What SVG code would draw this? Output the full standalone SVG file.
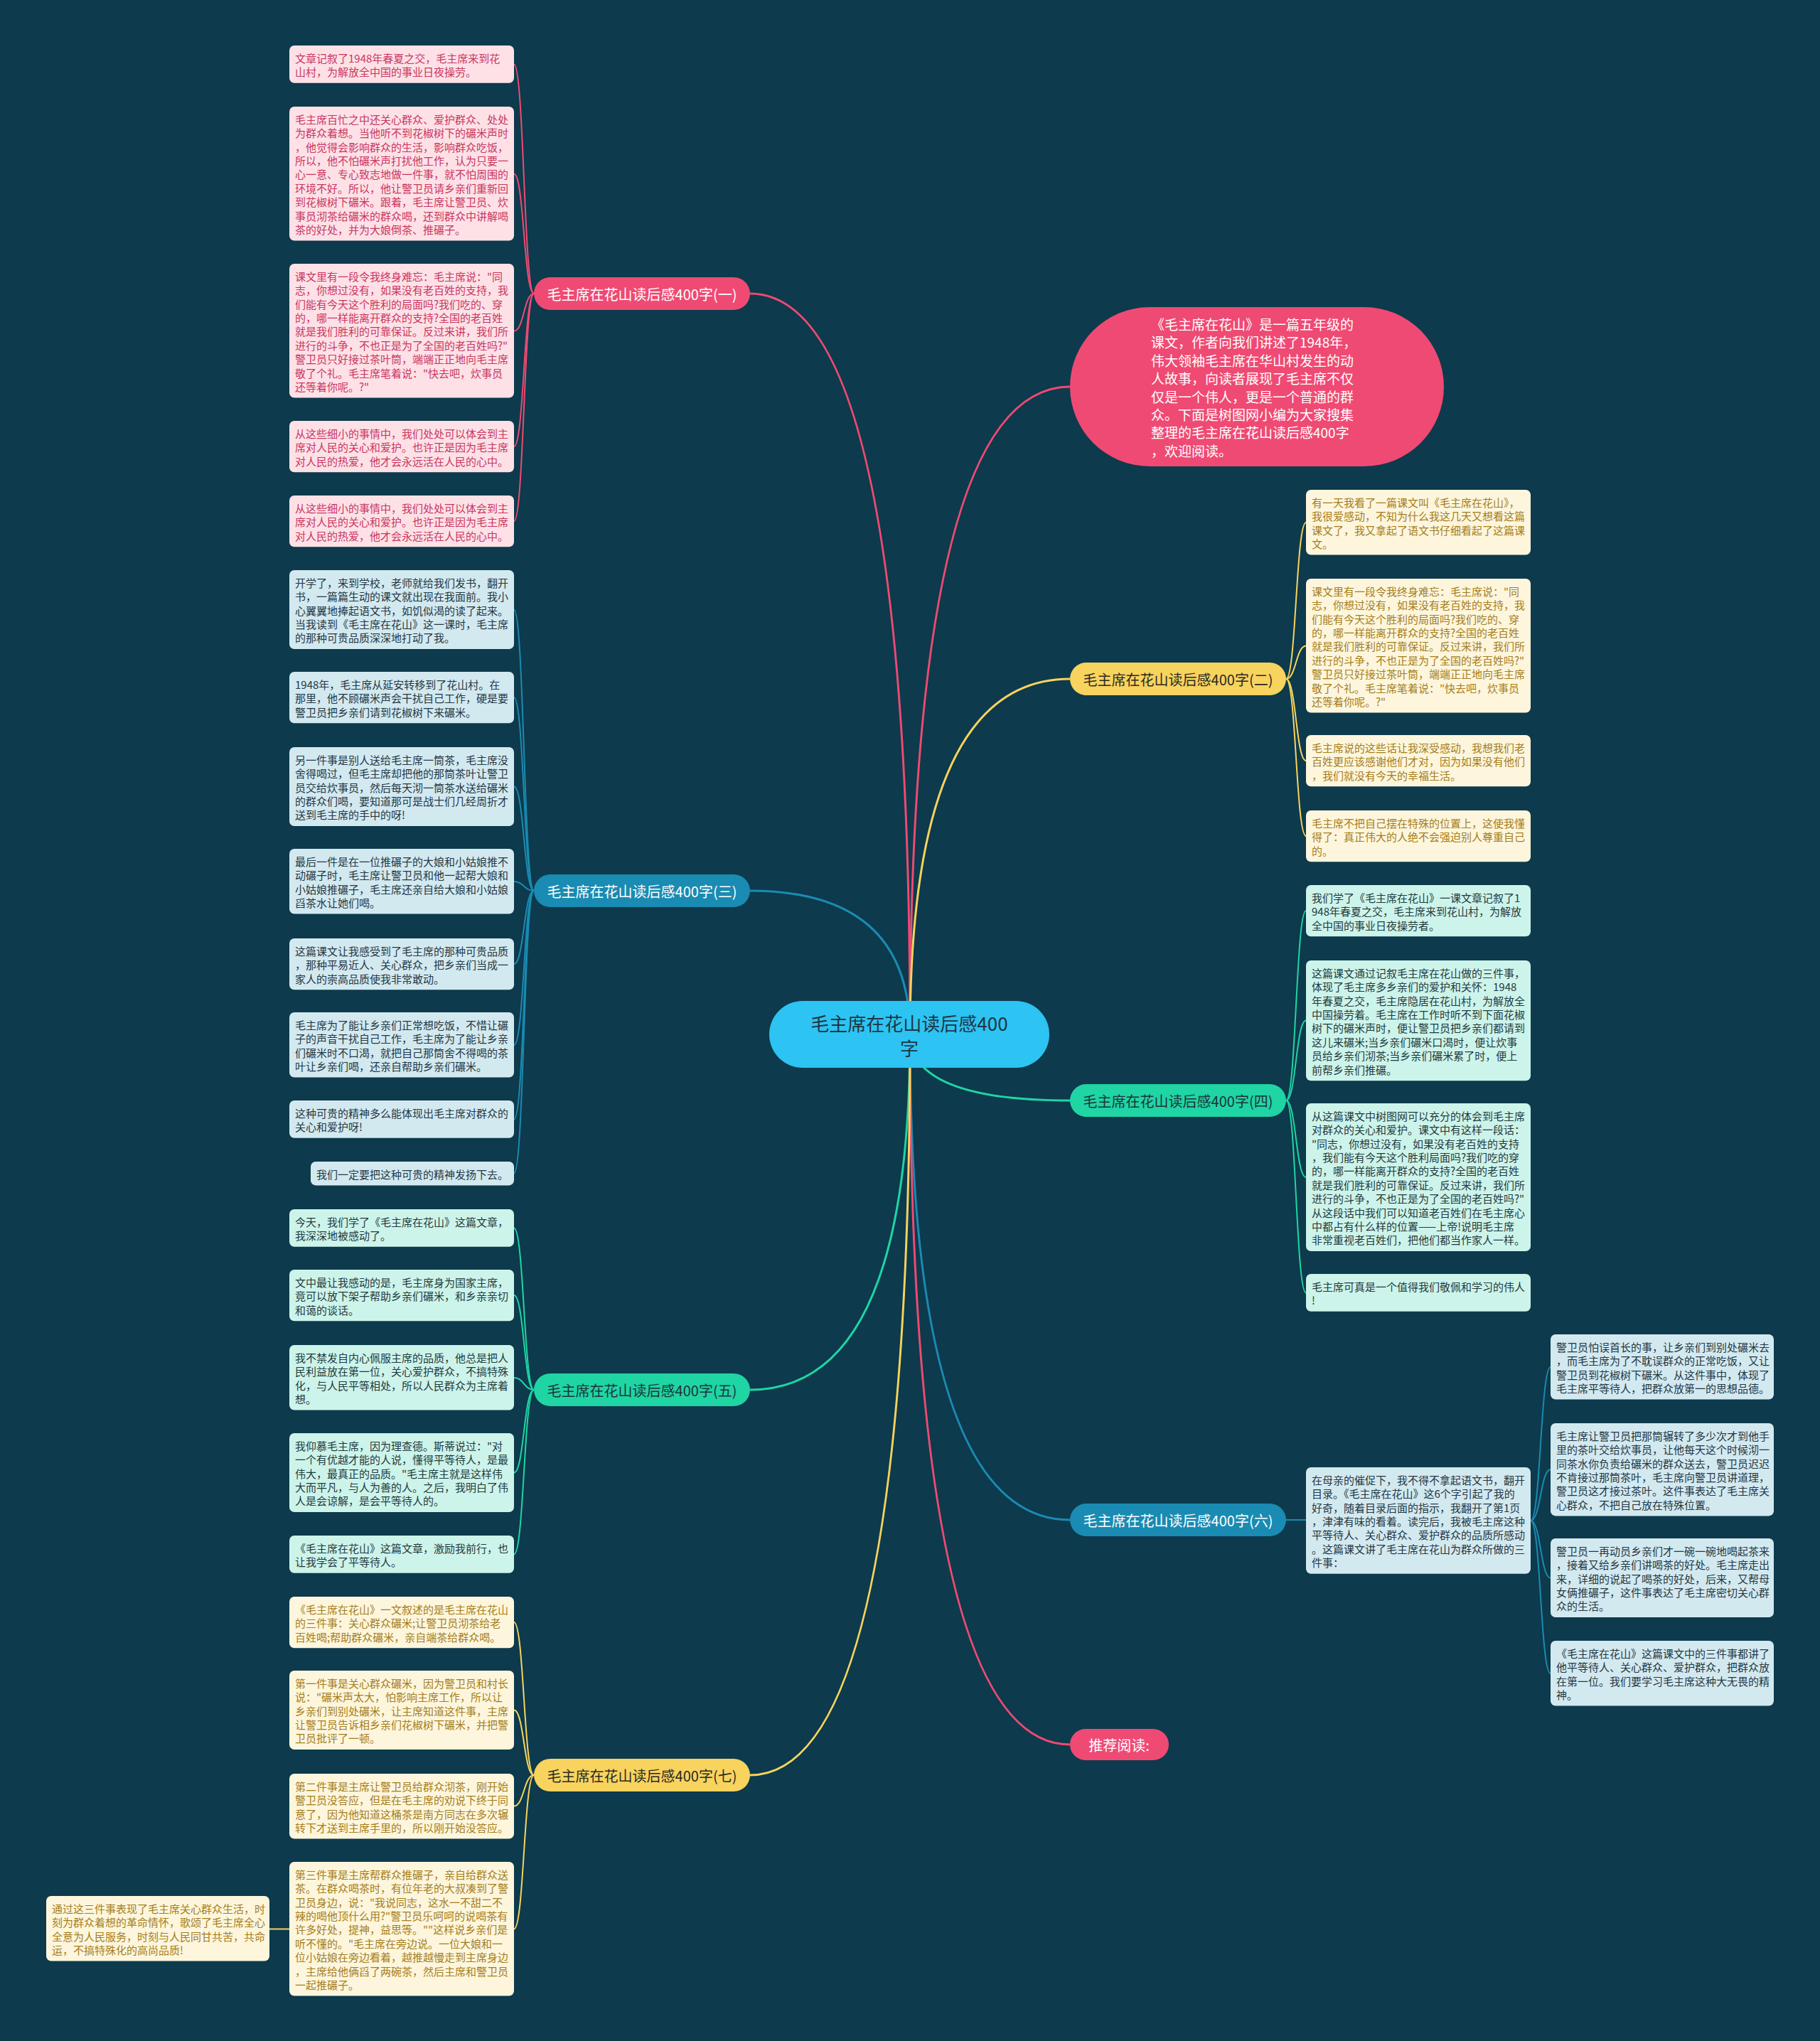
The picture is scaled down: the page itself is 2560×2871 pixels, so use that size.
<svg xmlns="http://www.w3.org/2000/svg" width="2560" height="2871" viewBox="0 0 2560 2871">
<style>
text{font-family:"Noto Sans CJK SC","Noto Sans",sans-serif;dominant-baseline:central}
.lt{font-size:15px}
.pink rect{fill:#fde1e7}.pink text{fill:#c93660}
.yel rect{fill:#fdf6dd}.yel text{fill:#a57d1c}
.blu rect{fill:#d3e9f0}.blu text{fill:#233744}
.grn rect{fill:#cdf4ea}.grn text{fill:#1f3a3f}
.br text{font-size:20px;text-anchor:middle}
.c{fill:none}
.cp{stroke:#ef4a73}.cy{stroke:#f8d35e}.cb{stroke:#1a8bb2}.cg{stroke:#1fd5a4}
.m{stroke-width:3}.l{stroke-width:2}
</style>
<rect width="2560" height="2871" fill="#0d3a4c"/>
<g id="connectors" class="c">
<path class="c cp m" d="M1280 1455 Q1280 413 1055 413"/>
<path class="c cp m" d="M1280 1455 Q1280 544 1505 544"/>
<path class="c cy m" d="M1280 1455 Q1280 955 1505 955"/>
<path class="c cb m" d="M1280 1455 Q1280 1253 1055 1253"/>
<path class="c cg m" d="M1280 1455 Q1280 1548 1505 1548"/>
<path class="c cg m" d="M1280 1455 Q1280 1955 1055 1955"/>
<path class="c cb m" d="M1280 1455 Q1280 2138 1505 2138"/>
<path class="c cp m" d="M1280 1455 Q1280 2454 1505 2454"/>
<path class="c cy m" d="M1280 1455 Q1280 2497 1055 2497"/>
<path class="c cp l" d="M751 413 C737 413 737 90.5 723 90.5"/>
<path class="c cp l" d="M751 413 C737 413 737 244.5 723 244.5"/>
<path class="c cp l" d="M751 413 C737 413 737 465.5 723 465.5"/>
<path class="c cp l" d="M751 413 C737 413 737 628 723 628"/>
<path class="c cp l" d="M751 413 C737 413 737 733 723 733"/>
<path class="c cb l" d="M751 1253 C737 1253 737 857.5 723 857.5"/>
<path class="c cb l" d="M751 1253 C737 1253 737 981 723 981"/>
<path class="c cb l" d="M751 1253 C737 1253 737 1106.5 723 1106.5"/>
<path class="c cb l" d="M751 1253 C737 1253 737 1240 723 1240"/>
<path class="c cb l" d="M751 1253 C737 1253 737 1356 723 1356"/>
<path class="c cb l" d="M751 1253 C737 1253 737 1470 723 1470"/>
<path class="c cb l" d="M751 1253 C737 1253 737 1574.5 723 1574.5"/>
<path class="c cb l" d="M751 1253 C737 1253 737 1650.5 723 1650.5"/>
<path class="c cg l" d="M751 1955 C737 1955 737 1727.5 723 1727.5"/>
<path class="c cg l" d="M751 1955 C737 1955 737 1822 723 1822"/>
<path class="c cg l" d="M751 1955 C737 1955 737 1938 723 1938"/>
<path class="c cg l" d="M751 1955 C737 1955 737 2071.5 723 2071.5"/>
<path class="c cg l" d="M751 1955 C737 1955 737 2186.5 723 2186.5"/>
<path class="c cy l" d="M751 2497 C737 2497 737 2282 723 2282"/>
<path class="c cy l" d="M751 2497 C737 2497 737 2405.5 723 2405.5"/>
<path class="c cy l" d="M751 2497 C737 2497 737 2540.5 723 2540.5"/>
<path class="c cy l" d="M751 2497 C737 2497 737 2713.5 723 2713.5"/>
<path class="c cy l" d="M407 2713.5 L379 2713.5"/>
<path class="c cy l" d="M1809 955 C1823 955 1823 735 1837 735"/>
<path class="c cy l" d="M1809 955 C1823 955 1823 908.5 1837 908.5"/>
<path class="c cy l" d="M1809 955 C1823 955 1823 1070 1837 1070"/>
<path class="c cy l" d="M1809 955 C1823 955 1823 1176 1837 1176"/>
<path class="c cg l" d="M1809 1548 C1823 1548 1823 1281 1837 1281"/>
<path class="c cg l" d="M1809 1548 C1823 1548 1823 1435.5 1837 1435.5"/>
<path class="c cg l" d="M1809 1548 C1823 1548 1823 1656 1837 1656"/>
<path class="c cg l" d="M1809 1548 C1823 1548 1823 1818.5 1837 1818.5"/>
<path class="c cb l" d="M1809 2138 L1837 2138"/>
<path class="c cb l" d="M2153 2139 C2167 2139 2167 1923 2181 1923"/>
<path class="c cb l" d="M2153 2139 C2167 2139 2167 2067 2181 2067"/>
<path class="c cb l" d="M2153 2139 C2167 2139 2167 2219.5 2181 2219.5"/>
<path class="c cb l" d="M2153 2139 C2167 2139 2167 2354 2181 2354"/>
</g>

<g id="center"><rect x="1082" y="1408" width="394" height="94" rx="47" fill="#2dc3f2"/>
<text x="1279" y="1438" font-size="26" text-anchor="middle" fill="#1d3644">毛主席在花山读后感400</text>
<text x="1279" y="1473" font-size="26" text-anchor="middle" fill="#1d3644">字</text></g>

<g id="intro"><rect x="1505" y="432" width="526" height="224" rx="112" fill="#ef4a73"/>
<text font-size="19" fill="#ffffff" x="1619" y="455"><tspan x="1619">《毛主席在花山》是一篇五年级的</tspan><tspan x="1619" dy="25.4">课文，作者向我们讲述了1948年，</tspan><tspan x="1619" dy="25.4">伟大领袖毛主席在华山村发生的动</tspan><tspan x="1619" dy="25.4">人故事，向读者展现了毛主席不仅</tspan><tspan x="1619" dy="25.4">仅是一个伟人，更是一个普通的群</tspan><tspan x="1619" dy="25.4">众。下面是树图网小编为大家搜集</tspan><tspan x="1619" dy="25.4">整理的毛主席在花山读后感400字</tspan><tspan x="1619" dy="25.4">，欢迎阅读。</tspan></text></g>

<g id="b1" class="br"><rect x="751" y="390" width="304" height="46" rx="23" fill="#ef4a73"/><text x="903" y="413" fill="#ffffff">毛主席在花山读后感400字(一)</text></g>
<g id="b2" class="br"><rect x="1505" y="932" width="304" height="46" rx="23" fill="#f8d35e"/><text x="1657" y="955" fill="#2a2a22">毛主席在花山读后感400字(二)</text></g>
<g id="b3" class="br"><rect x="751" y="1230" width="304" height="46" rx="23" fill="#1a8bb2"/><text x="903" y="1253" fill="#ffffff">毛主席在花山读后感400字(三)</text></g>
<g id="b4" class="br"><rect x="1505" y="1525" width="304" height="46" rx="23" fill="#1fd5a4"/><text x="1657" y="1548" fill="#1d3438">毛主席在花山读后感400字(四)</text></g>
<g id="b5" class="br"><rect x="751" y="1932" width="304" height="46" rx="23" fill="#1fd5a4"/><text x="903" y="1955" fill="#1d3438">毛主席在花山读后感400字(五)</text></g>
<g id="b6" class="br"><rect x="1505" y="2115" width="304" height="46" rx="23" fill="#1a8bb2"/><text x="1657" y="2138" fill="#ffffff">毛主席在花山读后感400字(六)</text></g>
<g id="b8" class="br"><rect x="1505" y="2432" width="139" height="44" rx="22" fill="#ef4a73"/><text x="1574" y="2454" fill="#ffffff">推荐阅读:</text></g>
<g id="b7" class="br"><rect x="751" y="2474" width="304" height="46" rx="23" fill="#f8d35e"/><text x="903" y="2497" fill="#2a2a22">毛主席在花山读后感400字(七)</text></g>

<g id="l1-1" class="pink lt"><rect x="407" y="64" width="316" height="52.8" rx="7"/><text y="80.7"><tspan x="415">文章记叙了1948年春夏之交，毛主席来到花</tspan><tspan x="415" dy="19.4">山村，为解放全中国的事业日夜操劳。</tspan></text></g>
<g id="l1-2" class="pink lt"><rect x="407" y="150" width="316" height="188.6" rx="7"/><text y="166.7"><tspan x="415">毛主席百忙之中还关心群众、爱护群众、处处</tspan><tspan x="415" dy="19.4">为群众着想。当他听不到花椒树下的碾米声时</tspan><tspan x="415" dy="19.4">，他觉得会影响群众的生活，影响群众吃饭，</tspan><tspan x="415" dy="19.4">所以，他不怕碾米声打扰他工作，认为只要一</tspan><tspan x="415" dy="19.4">心一意、专心致志地做一件事，就不怕周围的</tspan><tspan x="415" dy="19.4">环境不好。所以，他让警卫员请乡亲们重新回</tspan><tspan x="415" dy="19.4">到花椒树下碾米。跟着，毛主席让警卫员、炊</tspan><tspan x="415" dy="19.4">事员沏茶给碾米的群众喝，还到群众中讲解喝</tspan><tspan x="415" dy="19.4">茶的好处，并为大娘倒茶、推碾子。</tspan></text></g>
<g id="l1-3" class="pink lt"><rect x="407" y="371" width="316" height="188.6" rx="7"/><text y="387.7"><tspan x="415">课文里有一段令我终身难忘：毛主席说："同</tspan><tspan x="415" dy="19.4">志，你想过没有，如果没有老百姓的支持，我</tspan><tspan x="415" dy="19.4">们能有今天这个胜利的局面吗?我们吃的、穿</tspan><tspan x="415" dy="19.4">的，哪一样能离开群众的支持?全国的老百姓</tspan><tspan x="415" dy="19.4">就是我们胜利的可靠保证。反过来讲，我们所</tspan><tspan x="415" dy="19.4">进行的斗争，不也正是为了全国的老百姓吗?"</tspan><tspan x="415" dy="19.4">警卫员只好接过茶叶筒，端端正正地向毛主席</tspan><tspan x="415" dy="19.4">敬了个礼。毛主席笔着说："快去吧，炊事员</tspan><tspan x="415" dy="19.4">还等着你呢。?"</tspan></text></g>
<g id="l1-4" class="pink lt"><rect x="407" y="592" width="316" height="72.2" rx="7"/><text y="608.7"><tspan x="415">从这些细小的事情中，我们处处可以体会到主</tspan><tspan x="415" dy="19.4">席对人民的关心和爱护。也许正是因为毛主席</tspan><tspan x="415" dy="19.4">对人民的热爱，他才会永远活在人民的心中。</tspan></text></g>
<g id="l1-5" class="pink lt"><rect x="407" y="697" width="316" height="72.2" rx="7"/><text y="713.7"><tspan x="415">从这些细小的事情中，我们处处可以体会到主</tspan><tspan x="415" dy="19.4">席对人民的关心和爱护。也许正是因为毛主席</tspan><tspan x="415" dy="19.4">对人民的热爱，他才会永远活在人民的心中。</tspan></text></g>

<g id="l3-1" class="blu lt"><rect x="407" y="802" width="316" height="111" rx="7"/><text y="818.7"><tspan x="415">开学了，来到学校，老师就给我们发书，翻开</tspan><tspan x="415" dy="19.4">书，一篇篇生动的课文就出现在我面前。我小</tspan><tspan x="415" dy="19.4">心翼翼地捧起语文书，如饥似渴的读了起来。</tspan><tspan x="415" dy="19.4">当我读到《毛主席在花山》这一课时，毛主席</tspan><tspan x="415" dy="19.4">的那种可贵品质深深地打动了我。</tspan></text></g>
<g id="l3-2" class="blu lt"><rect x="407" y="945" width="316" height="72.2" rx="7"/><text y="961.7"><tspan x="415">1948年，毛主席从延安转移到了花山村。在</tspan><tspan x="415" dy="19.4">那里，他不顾碾米声会干扰自己工作，硬是要</tspan><tspan x="415" dy="19.4">警卫员把乡亲们请到花椒树下来碾米。</tspan></text></g>
<g id="l3-3" class="blu lt"><rect x="407" y="1051" width="316" height="111" rx="7"/><text y="1067.7"><tspan x="415">另一件事是别人送给毛主席一筒茶，毛主席没</tspan><tspan x="415" dy="19.4">舍得喝过，但毛主席却把他的那筒茶叶让警卫</tspan><tspan x="415" dy="19.4">员交给炊事员，然后每天沏一筒茶水送给碾米</tspan><tspan x="415" dy="19.4">的群众们喝，要知道那可是战士们几经周折才</tspan><tspan x="415" dy="19.4">送到毛主席的手中的呀!</tspan></text></g>
<g id="l3-4" class="blu lt"><rect x="407" y="1194" width="316" height="91.6" rx="7"/><text y="1210.7"><tspan x="415">最后一件是在一位推碾子的大娘和小姑娘推不</tspan><tspan x="415" dy="19.4">动碾子时，毛主席让警卫员和他一起帮大娘和</tspan><tspan x="415" dy="19.4">小姑娘推碾子，毛主席还亲自给大娘和小姑娘</tspan><tspan x="415" dy="19.4">舀茶水让她们喝。</tspan></text></g>
<g id="l3-5" class="blu lt"><rect x="407" y="1320" width="316" height="72.2" rx="7"/><text y="1336.7"><tspan x="415">这篇课文让我感受到了毛主席的那种可贵品质</tspan><tspan x="415" dy="19.4">，那种平易近人、关心群众，把乡亲们当成一</tspan><tspan x="415" dy="19.4">家人的崇高品质使我非常敢动。</tspan></text></g>
<g id="l3-6" class="blu lt"><rect x="407" y="1424" width="316" height="91.6" rx="7"/><text y="1440.7"><tspan x="415">毛主席为了能让乡亲们正常想吃饭，不惜让碾</tspan><tspan x="415" dy="19.4">子的声音干扰自己工作，毛主席为了能让乡亲</tspan><tspan x="415" dy="19.4">们碾米时不口渴，就把自己那筒舍不得喝的茶</tspan><tspan x="415" dy="19.4">叶让乡亲们喝，还亲自帮助乡亲们碾米。</tspan></text></g>
<g id="l3-7" class="blu lt"><rect x="407" y="1548" width="316" height="52.8" rx="7"/><text y="1564.7"><tspan x="415">这种可贵的精神多么能体现出毛主席对群众的</tspan><tspan x="415" dy="19.4">关心和爱护呀!</tspan></text></g>
<g id="l3-8" class="blu lt"><rect x="437" y="1634" width="286" height="33.4" rx="7"/><text y="1650.7"><tspan x="445">我们一定要把这种可贵的精神发扬下去。</tspan></text></g>

<g id="l5-1" class="grn lt"><rect x="407" y="1701" width="316" height="52.8" rx="7"/><text y="1717.7"><tspan x="415">今天，我们学了《毛主席在花山》这篇文章，</tspan><tspan x="415" dy="19.4">我深深地被感动了。</tspan></text></g>
<g id="l5-2" class="grn lt"><rect x="407" y="1786" width="316" height="72.2" rx="7"/><text y="1802.7"><tspan x="415">文中最让我感动的是，毛主席身为国家主席，</tspan><tspan x="415" dy="19.4">竟可以放下架子帮助乡亲们碾米，和乡亲亲切</tspan><tspan x="415" dy="19.4">和蔼的谈话。</tspan></text></g>
<g id="l5-3" class="grn lt"><rect x="407" y="1892" width="316" height="91.6" rx="7"/><text y="1908.7"><tspan x="415">我不禁发自内心佩服主席的品质，他总是把人</tspan><tspan x="415" dy="19.4">民利益放在第一位，关心爱护群众，不搞特殊</tspan><tspan x="415" dy="19.4">化，与人民平等相处，所以人民群众为主席着</tspan><tspan x="415" dy="19.4">想。</tspan></text></g>
<g id="l5-4" class="grn lt"><rect x="407" y="2016" width="316" height="111" rx="7"/><text y="2032.7"><tspan x="415">我仰慕毛主席，因为理查德。斯蒂说过："对</tspan><tspan x="415" dy="19.4">一个有优越才能的人说，懂得平等待人，是最</tspan><tspan x="415" dy="19.4">伟大，最真正的品质。"毛主席主就是这样伟</tspan><tspan x="415" dy="19.4">大而平凡，与人为善的人。之后，我明白了伟</tspan><tspan x="415" dy="19.4">人是会谅解，是会平等待人的。</tspan></text></g>
<g id="l5-5" class="grn lt"><rect x="407" y="2160" width="316" height="52.8" rx="7"/><text y="2176.7"><tspan x="415">《毛主席在花山》这篇文章，激励我前行，也</tspan><tspan x="415" dy="19.4">让我学会了平等待人。</tspan></text></g>

<g id="l7-1" class="yel lt"><rect x="407" y="2246" width="316" height="72.2" rx="7"/><text y="2262.7"><tspan x="415">《毛主席在花山》一文叙述的是毛主席在花山</tspan><tspan x="415" dy="19.4">的三件事：关心群众碾米;让警卫员沏茶给老</tspan><tspan x="415" dy="19.4">百姓喝;帮助群众碾米，亲自端茶给群众喝。</tspan></text></g>
<g id="l7-2" class="yel lt"><rect x="407" y="2350" width="316" height="111" rx="7"/><text y="2366.7"><tspan x="415">第一件事是关心群众碾米，因为警卫员和村长</tspan><tspan x="415" dy="19.4">说："碾米声太大，怕影响主席工作，所以让</tspan><tspan x="415" dy="19.4">乡亲们到别处碾米，让主席知道这件事，主席</tspan><tspan x="415" dy="19.4">让警卫员告诉相乡亲们花椒树下碾米，并把警</tspan><tspan x="415" dy="19.4">卫员批评了一顿。</tspan></text></g>
<g id="l7-3" class="yel lt"><rect x="407" y="2495" width="316" height="91.6" rx="7"/><text y="2511.7"><tspan x="415">第二件事是主席让警卫员给群众沏茶，刚开始</tspan><tspan x="415" dy="19.4">警卫员没答应，但是在毛主席的劝说下终于同</tspan><tspan x="415" dy="19.4">意了，因为他知道这桶茶是南方同志在多次辗</tspan><tspan x="415" dy="19.4">转下才送到主席手里的，所以刚开始没答应。</tspan></text></g>
<g id="l7-4" class="yel lt"><rect x="407" y="2619" width="316" height="188.6" rx="7"/><text y="2635.7"><tspan x="415">第三件事是主席帮群众推碾子，亲自给群众送</tspan><tspan x="415" dy="19.4">茶。在群众喝茶时，有位年老的大叔凑到了警</tspan><tspan x="415" dy="19.4">卫员身边，说："我说同志，这水一不甜二不</tspan><tspan x="415" dy="19.4">辣的喝他顶什么用?"警卫员乐呵呵的说喝茶有</tspan><tspan x="415" dy="19.4">许多好处，提神，益思等。""这样说乡亲们是</tspan><tspan x="415" dy="19.4">听不懂的。"毛主席在旁边说。一位大娘和一</tspan><tspan x="415" dy="19.4">位小姑娘在旁边看着，越推越慢走到主席身边</tspan><tspan x="415" dy="19.4">，主席给他俩舀了两碗茶，然后主席和警卫员</tspan><tspan x="415" dy="19.4">一起推碾子。</tspan></text></g>
<g id="l7-4-1" class="yel lt"><rect x="65" y="2667" width="314" height="91.6" rx="7"/><text y="2683.7"><tspan x="73">通过这三件事表现了毛主席关心群众生活，时</tspan><tspan x="73" dy="19.4">刻为群众着想的革命情怀，歌颂了毛主席全心</tspan><tspan x="73" dy="19.4">全意为人民服务，时刻与人民同甘共苦，共命</tspan><tspan x="73" dy="19.4">运，不搞特殊化的高尚品质!</tspan></text></g>

<g id="l2-1" class="yel lt"><rect x="1837" y="689" width="316" height="91.6" rx="7"/><text y="705.7"><tspan x="1845">有一天我看了一篇课文叫《毛主席在花山》，</tspan><tspan x="1845" dy="19.4">我很爱感动，不知为什么我这几天又想看这篇</tspan><tspan x="1845" dy="19.4">课文了，我又拿起了语文书仔细看起了这篇课</tspan><tspan x="1845" dy="19.4">文。</tspan></text></g>
<g id="l2-2" class="yel lt"><rect x="1837" y="814" width="316" height="188.6" rx="7"/><text y="830.7"><tspan x="1845">课文里有一段令我终身难忘：毛主席说："同</tspan><tspan x="1845" dy="19.4">志，你想过没有，如果没有老百姓的支持，我</tspan><tspan x="1845" dy="19.4">们能有今天这个胜利的局面吗?我们吃的、穿</tspan><tspan x="1845" dy="19.4">的，哪一样能离开群众的支持?全国的老百姓</tspan><tspan x="1845" dy="19.4">就是我们胜利的可靠保证。反过来讲，我们所</tspan><tspan x="1845" dy="19.4">进行的斗争，不也正是为了全国的老百姓吗?"</tspan><tspan x="1845" dy="19.4">警卫员只好接过茶叶筒，端端正正地向毛主席</tspan><tspan x="1845" dy="19.4">敬了个礼。毛主席笔着说："快去吧，炊事员</tspan><tspan x="1845" dy="19.4">还等着你呢。?"</tspan></text></g>
<g id="l2-3" class="yel lt"><rect x="1837" y="1034" width="316" height="72.2" rx="7"/><text y="1050.7"><tspan x="1845">毛主席说的这些话让我深受感动，我想我们老</tspan><tspan x="1845" dy="19.4">百姓更应该感谢他们才对，因为如果没有他们</tspan><tspan x="1845" dy="19.4">，我们就没有今天的幸福生活。</tspan></text></g>
<g id="l2-4" class="yel lt"><rect x="1837" y="1140" width="316" height="72.2" rx="7"/><text y="1156.7"><tspan x="1845">毛主席不把自己摆在特殊的位置上，这使我懂</tspan><tspan x="1845" dy="19.4">得了：真正伟大的人绝不会强迫别人尊重自己</tspan><tspan x="1845" dy="19.4">的。</tspan></text></g>

<g id="l4-1" class="grn lt"><rect x="1837" y="1245" width="316" height="72.2" rx="7"/><text y="1261.7"><tspan x="1845">我们学了《毛主席在花山》一课文章记叙了1</tspan><tspan x="1845" dy="19.4">948年春夏之交，毛主席来到花山村，为解放</tspan><tspan x="1845" dy="19.4">全中国的事业日夜操劳者。</tspan></text></g>
<g id="l4-2" class="grn lt"><rect x="1837" y="1351" width="316" height="169.2" rx="7"/><text y="1367.7"><tspan x="1845">这篇课文通过记叙毛主席在花山做的三件事，</tspan><tspan x="1845" dy="19.4">体现了毛主席多乡亲们的爱护和关怀：1948</tspan><tspan x="1845" dy="19.4">年春夏之交，毛主席隐居在花山村，为解放全</tspan><tspan x="1845" dy="19.4">中国操劳着。毛主席在工作时听不到下面花椒</tspan><tspan x="1845" dy="19.4">树下的碾米声时，便让警卫员把乡亲们都请到</tspan><tspan x="1845" dy="19.4">这儿来碾米;当乡亲们碾米口渴时，便让炊事</tspan><tspan x="1845" dy="19.4">员给乡亲们沏茶;当乡亲们碾米累了时，便上</tspan><tspan x="1845" dy="19.4">前帮乡亲们推碾。</tspan></text></g>
<g id="l4-3" class="grn lt"><rect x="1837" y="1552" width="316" height="208" rx="7"/><text y="1568.7"><tspan x="1845">从这篇课文中树图网可以充分的体会到毛主席</tspan><tspan x="1845" dy="19.4">对群众的关心和爱护。课文中有这样一段话：</tspan><tspan x="1845" dy="19.4">"同志，你想过没有，如果没有老百姓的支持</tspan><tspan x="1845" dy="19.4">，我们能有今天这个胜利局面吗?我们吃的穿</tspan><tspan x="1845" dy="19.4">的，哪一样能离开群众的支持?全国的老百姓</tspan><tspan x="1845" dy="19.4">就是我们胜利的可靠保证。反过来讲，我们所</tspan><tspan x="1845" dy="19.4">进行的斗争，不也正是为了全国的老百姓吗?"</tspan><tspan x="1845" dy="19.4">从这段话中我们可以知道老百姓们在毛主席心</tspan><tspan x="1845" dy="19.4">中都占有什么样的位置——上帝!说明毛主席</tspan><tspan x="1845" dy="19.4">非常重视老百姓们，把他们都当作家人一样。</tspan></text></g>
<g id="l4-4" class="grn lt"><rect x="1837" y="1792" width="316" height="52.8" rx="7"/><text y="1808.7"><tspan x="1845">毛主席可真是一个值得我们敬佩和学习的伟人</tspan><tspan x="1845" dy="19.4">!</tspan></text></g>

<g id="l6-1" class="blu lt"><rect x="1837" y="2064" width="316" height="149.8" rx="7"/><text y="2080.7"><tspan x="1845">在母亲的催促下，我不得不拿起语文书，翻开</tspan><tspan x="1845" dy="19.4">目录。《毛主席在花山》这6个字引起了我的</tspan><tspan x="1845" dy="19.4">好奇，随着目录后面的指示，我翻开了第1页</tspan><tspan x="1845" dy="19.4">，津津有味的看着。读完后，我被毛主席这种</tspan><tspan x="1845" dy="19.4">平等待人、关心群众、爱护群众的品质所感动</tspan><tspan x="1845" dy="19.4">。这篇课文讲了毛主席在花山为群众所做的三</tspan><tspan x="1845" dy="19.4">件事：</tspan></text></g>
<g id="l6-1-1" class="blu lt"><rect x="2181" y="1877" width="314" height="91.6" rx="7"/><text y="1893.7"><tspan x="2189">警卫员怕误首长的事，让乡亲们到别处碾米去</tspan><tspan x="2189" dy="19.4">，而毛主席为了不耽误群众的正常吃饭，又让</tspan><tspan x="2189" dy="19.4">警卫员到花椒树下碾米。从这件事中，体现了</tspan><tspan x="2189" dy="19.4">毛主席平等待人，把群众放第一的思想品德。</tspan></text></g>
<g id="l6-1-2" class="blu lt"><rect x="2181" y="2002" width="314" height="130.4" rx="7"/><text y="2018.7"><tspan x="2189">毛主席让警卫员把那筒辗转了多少次才到他手</tspan><tspan x="2189" dy="19.4">里的茶叶交给炊事员，让他每天这个时候沏一</tspan><tspan x="2189" dy="19.4">同茶水你负责给碾米的群众送去，警卫员迟迟</tspan><tspan x="2189" dy="19.4">不肯接过那筒茶叶，毛主席向警卫员讲道理，</tspan><tspan x="2189" dy="19.4">警卫员这才接过茶叶。这件事表达了毛主席关</tspan><tspan x="2189" dy="19.4">心群众，不把自己放在特殊位置。</tspan></text></g>
<g id="l6-1-3" class="blu lt"><rect x="2181" y="2164" width="314" height="111" rx="7"/><text y="2180.7"><tspan x="2189">警卫员一再动员乡亲们才一碗一碗地喝起茶来</tspan><tspan x="2189" dy="19.4">，接着又给乡亲们讲喝茶的好处。毛主席走出</tspan><tspan x="2189" dy="19.4">来，详细的说起了喝茶的好处，后来，又帮母</tspan><tspan x="2189" dy="19.4">女俩推碾子，这件事表达了毛主席密切关心群</tspan><tspan x="2189" dy="19.4">众的生活。</tspan></text></g>
<g id="l6-1-4" class="blu lt"><rect x="2181" y="2308" width="314" height="91.6" rx="7"/><text y="2324.7"><tspan x="2189">《毛主席在花山》这篇课文中的三件事都讲了</tspan><tspan x="2189" dy="19.4">他平等待人、关心群众、爱护群众，把群众放</tspan><tspan x="2189" dy="19.4">在第一位。我们要学习毛主席这种大无畏的精</tspan><tspan x="2189" dy="19.4">神。</tspan></text></g>
</svg>
